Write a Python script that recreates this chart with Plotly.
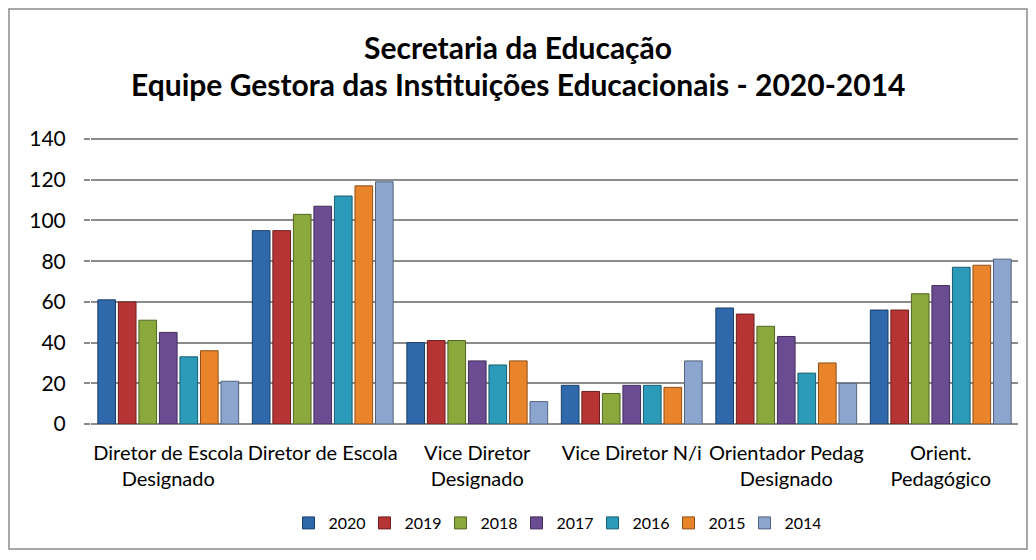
import plotly.graph_objects as go

categories = ["Diretor de Escola<br>Designado", "Diretor de Escola", "Vice Diretor<br>Designado",
              "Vice Diretor N/i", "Orientador Pedag<br>Designado", "Orient.<br>Pedagógico"]
years = ["2020", "2019", "2018", "2017", "2016", "2015", "2014"]
v2020 = [61, 95, 40, 19, 57, 56]
v2019 = [60, 95, 41, 16, 54, 56]
v2018 = [51, 103, 41, 15, 48, 64]
v2017 = [45, 107, 31, 19, 43, 68]
v2016 = [33, 112, 29, 19, 25, 77]
v2015 = [36, 117, 31, 18, 30, 78]
v2014 = [21, 119, 11, 31, 20, 81]
series = [v2020, v2019, v2018, v2017, v2016, v2015, v2014]
colors = ["#2f68ab", "#b63434", "#8aa83c", "#6b4c93", "#2b9bb9", "#e9842a", "#8ba5ce"]
lines = ["#1c3f68", "#6e1f1f", "#536524", "#402d58", "#1a5d70", "#8c4f19", "#53637c"]
title_lines = ["Secretaria da Educação",
               "Equipe Gestora das Instituições Educacionais - 2020-2014"]

fig = go.Figure()
for y, vals, c, lc in zip(years, series, colors, lines):
    fig.add_trace(go.Bar(name=y, x=categories, y=vals,
                         marker=dict(color=c, line=dict(color=lc, width=1))))

W, H = 1020, 544
L, R, T, B = 83, 10, 128, 128
pw, ph = W - L - R, H - T - B

def px(x):
    return (x - L) / pw

def py(y):
    return (H - B - y) / ph

annotations = []
for txt, yy in zip(title_lines, [39, 76]):
    annotations.append(dict(text="<b>" + txt + "</b>", xref="paper", yref="paper",
                            x=px(W / 2), y=py(yy), xanchor="center", yanchor="middle",
                            showarrow=False, font=dict(size=30, color="#000000")))

fig.update_layout(
    width=W, height=H,
    margin=dict(l=L, r=R, t=T, b=B),
    paper_bgcolor="white", plot_bgcolor="white",
    font=dict(family="Lato, Carlito, Calibri, sans-serif", color="#000000"),
    barmode="group", bargap=0.07, bargroupgap=0.14,
    annotations=annotations,
    xaxis=dict(tickfont=dict(size=20), showgrid=False, showline=False, ticks="",
               ticklabelstandoff=15),
    yaxis=dict(range=[0, 141.5], tickvals=[0, 20, 40, 60, 80, 100, 120, 140],
               tickfont=dict(size=21), showgrid=True,
               gridcolor="#8c8c8c", gridwidth=1.5, ticks="outside", ticklen=6,
               tickcolor="#8c8c8c", tickwidth=1.5, zeroline=True, zerolinecolor="#8c8c8c",
               zerolinewidth=1.5, showline=False, ticklabelstandoff=14),
    legend=dict(orientation="h", x=0.5, xanchor="center", y=py(515), yanchor="middle",
                font=dict(size=16), traceorder="normal", itemwidth=30,
                entrywidth=31, entrywidthmode="pixels"),
    shapes=[dict(type="rect", xref="paper", yref="paper",
                 x0=px(1), x1=px(W - 1), y0=py(541), y1=py(1),
                 line=dict(color="#8c8c8c", width=1.5), fillcolor="rgba(0,0,0,0)", layer="below")],
)

fig.write_html("out.html")
